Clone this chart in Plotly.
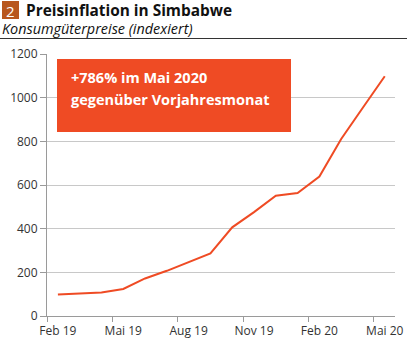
import plotly.graph_objects as go

# Monthly consumer price index, Zimbabwe
months = ["Feb 19", "Mär 19", "Apr 19", "Mai 19", "Jun 19", "Jul 19", "Aug 19", "Sep 19",
          "Okt 19", "Nov 19", "Dez 19", "Jan 20", "Feb 20", "Mär 20", "Apr 20", "Mai 20"]
index_values = [98, 102, 108, 124, 172, 207, 247, 287, 406, 476, 551, 563, 639, 811, 955, 1098]

tick_labels = ["Feb 19", "Mai 19", "Aug 19", "Nov 19", "Feb 20", "Mai 20"]
y_ticks = [0, 200, 400, 600, 800, 1000, 1200]

ORANGE = "#EF4B24"
BADGE = "#B8571E"
FONT = "Open Sans"

x_pos = list(range(len(months)))
label_pos = [months.index(m) for m in tick_labels]
boundary_pos = [p - 0.5 for p in label_pos]

fig = go.Figure()
fig.add_trace(go.Scatter(
    x=x_pos, y=index_values, mode="lines",
    line=dict(color=ORANGE, width=2),
    hoverinfo="skip", showlegend=False,
))

fig.update_layout(
    template="none",
    width=407, height=343,
    margin=dict(l=47, r=12, t=54, b=27),
    paper_bgcolor="white", plot_bgcolor="white",
    font=dict(family=FONT, size=12, color="#333333"),
    xaxis=dict(
        automargin=False,
        range=[-0.5, 15.47],
        tickmode="array", tickvals=label_pos, ticktext=tick_labels,
        ticks="", showgrid=False, zeroline=False,
        showline=True, linecolor="#9a9a9a", linewidth=1,
        tickfont=dict(size=12, color="#333333"),
        ticklabelstandoff=4,
        minor=dict(tickmode="array", tickvals=boundary_pos, ticks="outside",
                   ticklen=5, tickcolor="#9a9a9a", showgrid=False),
    ),
    yaxis=dict(
        automargin=False,
        range=[0, 1200],
        tickmode="array", tickvals=y_ticks,
        ticks="outside", ticklen=6, tickcolor="#9a9a9a",
        showgrid=True, gridcolor="#c8c8c8", gridwidth=1,
        zeroline=False, showline=True, linecolor="#9a9a9a", linewidth=1,
        tickfont=dict(size=12, color="#333333"),
    ),
)

# paper coordinates helpers (plot area spans 47..395 px horizontally, 54..316 px vertically)
def px_x(px):
    return (px - 47) / 348.0

def px_y(py):
    return (316 - py) / 262.0

# callout box
fig.add_shape(type="rect", xref="paper", yref="paper",
              x0=px_x(57), x1=px_x(291), y0=px_y(132), y1=px_y(59),
              fillcolor=ORANGE, line=dict(width=0), layer="above")
fig.add_annotation(xref="paper", yref="paper", x=px_x(69), y=px_y(77),
                   text="<b>+786% im Mai 2020</b>", showarrow=False,
                   xanchor="left", yanchor="middle",
                   font=dict(family=FONT, size=14.5, color="white"))
fig.add_annotation(xref="paper", yref="paper", x=px_x(69), y=px_y(100),
                   text="<b>gegenüber Vorjahresmonat</b>", showarrow=False,
                   xanchor="left", yanchor="middle",
                   font=dict(family=FONT, size=14.5, color="white"))

# header: numbered badge, title, subtitle, rule
fig.add_shape(type="rect", xref="paper", yref="paper",
              x0=px_x(2), x1=px_x(19), y0=px_y(19), y1=px_y(1),
              fillcolor=BADGE, line=dict(width=0))
fig.add_annotation(xref="paper", yref="paper", x=px_x(10.5), y=px_y(10.5),
                   text="2", showarrow=False, xanchor="center", yanchor="middle",
                   font=dict(family=FONT, size=15, color="white"))
fig.add_annotation(xref="paper", yref="paper", x=px_x(24), y=px_y(10.5),
                   text="<b>Preisinflation in Simbabwe</b>", showarrow=False,
                   xanchor="left", yanchor="middle",
                   font=dict(family=FONT, size=15.4, color="#111111"))
fig.add_annotation(xref="paper", yref="paper", x=px_x(0), y=px_y(28.5),
                   text="<i>Konsumgüterpreise (indexiert)</i>", showarrow=False,
                   xanchor="left", yanchor="middle",
                   font=dict(family=FONT, size=14.4, color="#111111"))
fig.add_shape(type="line", xref="paper", yref="paper",
              x0=px_x(0), x1=px_x(407), y0=px_y(38.5), y1=px_y(38.5),
              line=dict(color="#333333", width=1))

fig.write_html("out.html")
